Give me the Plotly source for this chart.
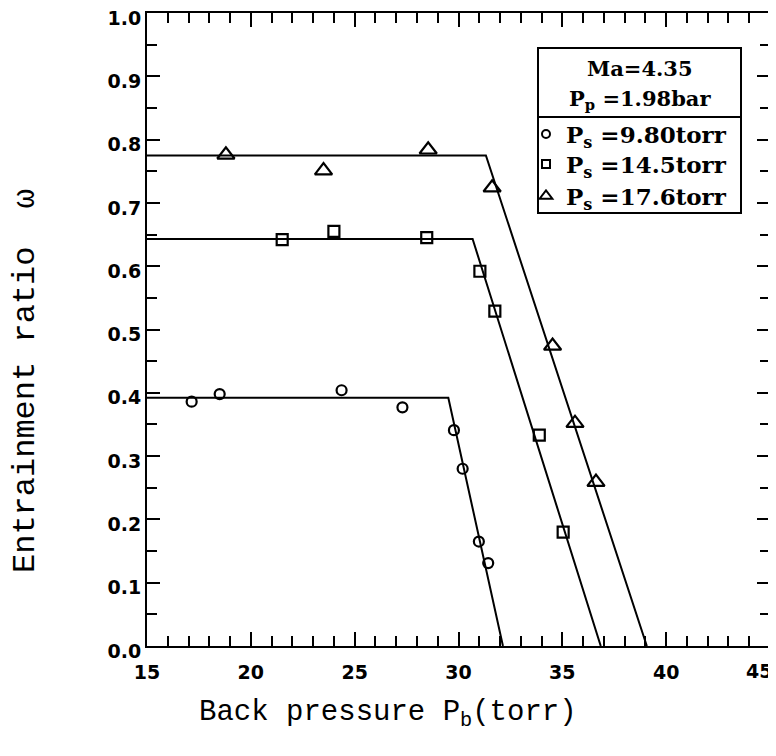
import plotly.graph_objects as go

# ---- data ----
circ_x = [17.15, 18.5, 24.37, 27.3, 29.78, 30.2, 30.98, 31.43]
circ_y = [0.386, 0.398, 0.404, 0.377, 0.341, 0.280, 0.165, 0.131]
sq_x = [21.51, 24.0, 28.47, 31.03, 31.75, 33.89, 35.04]
sq_y = [0.642, 0.655, 0.645, 0.592, 0.529, 0.333, 0.180]
tri_x = [18.8, 23.5, 28.54, 31.62, 34.53, 35.61, 36.62]
tri_y = [0.776, 0.751, 0.784, 0.724, 0.474, 0.352, 0.259]

# fitted lines: start x, knee x, plateau value, zero-crossing x
fit_start = 15.0
circ_fit_x = [fit_start, 29.51, 32.14]
circ_fit_y = [0.392, 0.392, 0.0]
sq_fit_x = [fit_start, 30.68, 36.85]
sq_fit_y = [0.643, 0.643, 0.0]
tri_fit_x = [fit_start, 31.32, 39.07]
tri_fit_y = [0.775, 0.775, 0.0]

x_ticks = [15, 20, 25, 30, 35, 40, 45]
x_ticktext = ["15", "20", "25", "30", "35", "40", ""]
last_x_label = "45"   # drawn slightly inward so it is not cut at the page edge
y_ticks = [0.0, 0.1, 0.2, 0.3, 0.4, 0.5, 0.6, 0.7, 0.8, 0.9, 1.0]
series_names = ["P<sub>s</sub> =9.80torr", "P<sub>s</sub> =14.5torr", "P<sub>s</sub> =17.6torr"]
header_lines = ["Ma=4.35", "P<sub>p</sub> =1.98bar"]

# page body has an 8px margin, so the figure is drawn 8px right/down
OFF = 8
W, H = 776 - OFF, 756 - OFF
L, R, T, B = 147 - OFF, 6, 13 - OFF, 110
PW, PH = W - L - R, H - T - B


def px(x):
    # screen pixel -> paper
    return (x - OFF - L) / PW


def py(y):
    return (H - B - (y - OFF)) / PH


fig = go.Figure()
line_style = dict(color="black", width=2)
for fx, fy in [(circ_fit_x, circ_fit_y), (sq_fit_x, sq_fit_y), (tri_fit_x, tri_fit_y)]:
    fig.add_trace(go.Scatter(x=fx, y=fy, mode="lines", line=line_style,
                             showlegend=False, hoverinfo="skip"))

sets = [
    (circ_x, circ_y, "circle-open", 10, 8),
    (sq_x, sq_y, "square-open", 11, 8),
    (tri_x, tri_y, "triangle-up-open", 15, 11),
]
for i, (xs, ys, sym, sz, lsz) in enumerate(sets):
    lg = "legend" if i == 0 else f"legend{i+1}"
    fig.add_trace(go.Scatter(x=xs, y=ys, mode="markers",
                             marker=dict(symbol=sym, size=sz, color="black",
                                         line=dict(color="black", width=2.2)),
                             showlegend=False))
    # legend entry
    fig.add_trace(go.Scatter(x=[None], y=[None], mode="markers", name=series_names[i],
                             marker=dict(symbol=sym, size=lsz, color="black",
                                         line=dict(color="black", width=2)),
                             legend=lg, showlegend=True))

legend_common = dict(font=dict(family="DejaVu Serif", size=23, color="black", weight="bold"),
                     bgcolor="rgba(0,0,0,0)", borderwidth=0, itemwidth=30,
                     xanchor="left", yanchor="middle", x=px(526))
fig.update_layout(
    legend=dict(**legend_common, y=py(134)),
    legend2=dict(**legend_common, y=py(164)),
    legend3=dict(**legend_common, y=py(196)),
)

tick_font = dict(family="DejaVu Sans", size=19, color="black", weight="bold")
axis_common = dict(showline=True, linewidth=2, linecolor="black", mirror="allticks",
                   ticks="inside", tickcolor="black", tickwidth=2,
                   showgrid=False, zeroline=False, automargin=False,
                   tickfont=tick_font)

fig.update_xaxes(range=[15, 45], tickvals=x_ticks, ticktext=x_ticktext, ticklen=14,
                 ticklabelstandoff=8,
                 minor=dict(ticks="inside", dtick=1, ticklen=10, tickwidth=2, tickcolor="black"),
                 **axis_common)
fig.update_yaxes(range=[0, 1.0], tickvals=y_ticks, ticktext=[f"{v:.1f}" for v in y_ticks],
                 ticklen=13, ticklabelshift=5, ticklabeloverflow="allow",
                 minor=dict(ticks="inside", dtick=0.05, ticklen=10, tickwidth=2, tickcolor="black"),
                 **axis_common)

fig.add_annotation(text=last_x_label, xref="paper", yref="paper", x=px(759), y=py(671),
                   showarrow=False, xanchor="center", yanchor="middle", font=tick_font)

# legend box
fig.add_shape(type="rect", xref="paper", yref="paper", x0=px(538), x1=px(741), y0=py(213), y1=py(48),
              line=dict(color="black", width=2))
fig.add_shape(type="line", xref="paper", yref="paper", x0=px(538), x1=px(741), y0=py(117), y1=py(117),
              line=dict(color="black", width=2))
for txt, yy in zip(header_lines, [69, 100]):
    fig.add_annotation(text=txt, xref="paper", yref="paper", x=px(640), y=py(yy), showarrow=False,
                       font=dict(family="DejaVu Serif", size=21, color="black", weight="bold"),
                       xanchor="center", yanchor="middle")

# axis titles
fig.add_annotation(text="Back pressure P<sub>b</sub>(torr)", xref="paper", yref="paper",
                   x=px(388), y=py(714), showarrow=False, xanchor="center", yanchor="middle",
                   font=dict(family="Liberation Mono", size=29, color="black"))
fig.add_annotation(text="Entrainment ratio  ω", xref="paper", yref="paper",
                   x=px(25), y=py(381), showarrow=False, xanchor="center", yanchor="middle",
                   textangle=-90,
                   font=dict(family="Liberation Mono", size=32, color="black"))

fig.update_layout(width=W, height=H, margin=dict(l=L, r=R, t=T, b=B, autoexpand=False),
                  paper_bgcolor="white", plot_bgcolor="white")
fig.write_html("out.html")
